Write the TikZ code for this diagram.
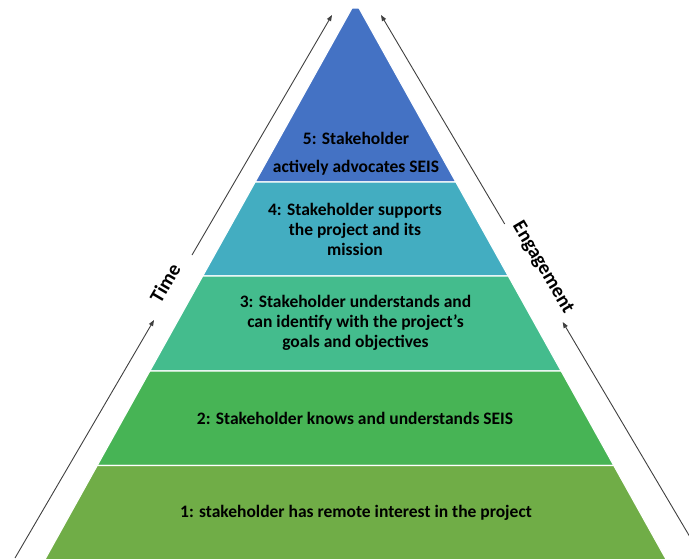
\documentclass[tikz,border=0pt]{standalone}
\usepackage{fontspec}
\setmainfont{Carlito}
\usetikzlibrary{arrows.meta, calc}

\definecolor{lvlfive}{HTML}{4472C4}
\definecolor{lvlfour}{HTML}{43ADC1}
\definecolor{lvlthree}{HTML}{44BC8D}
\definecolor{lvltwo}{HTML}{47B455}
\definecolor{lvlone}{HTML}{70AD47}
\definecolor{axisgray}{HTML}{404040}

\begin{document}
\begin{tikzpicture}[
  x=1pt, y=-1pt,
  band/.style={draw=white, line width=1.2pt},
  lbl/.style={font=\bfseries\fontsize{17.5}{20}\selectfont, align=center, text=black},
  axislbl/.style={font=\bfseries\fontsize{20}{24}\selectfont, inner sep=2pt},
  line/.style={draw=axisgray, line width=0.9pt, -{Triangle[length=6pt, width=4.5pt]}}
]
\useasboundingbox (0,0) rectangle (689,558);

% Pyramid corners: left edge l, right edge r
\coordinate (l0) at (352,8);     \coordinate (r0) at (359,8);
\coordinate (l1) at (255.1,182); \coordinate (r1) at (455.9,182);
\coordinate (l2) at (202.7,276); \coordinate (r2) at (508.3,276);
\coordinate (l3) at (149.8,371); \coordinate (r3) at (561.2,371);
\coordinate (l4) at (97.2,465.5); \coordinate (r4) at (613.8,465.5);
\coordinate (l5) at (42.4,564);  \coordinate (r5) at (668.7,564);

% Bands
\foreach \i/\j/\col in {0/1/lvlfive, 1/2/lvlfour, 2/3/lvlthree, 3/4/lvltwo, 4/5/lvlone}
  \path [band, fill=\col] (l\i) -- (r\i) -- (r\j) -- (l\j) -- cycle;

% Band texts
\node (five)  [lbl] at (356,154)   {5: Stakeholder\\[8pt]actively advocates SEIS};
\node (four)  [lbl] at (355,229.5) {4: Stakeholder supports\\the project and its\\mission};
\node (three) [lbl] at (355.5,323) {3: Stakeholder understands and\\can identify with the project’s\\goals and objectives};
\node (two)   [lbl] at (355,418)   {2: Stakeholder knows and understands SEIS};
\node (one)   [lbl] at (356,513)   {1: stakeholder has remote interest in the project};

% Time axis (left)
\coordinate (timestart) at (15,558);
\coordinate (timelow)   at (154,320);
\coordinate (timehigh)  at (192,255);
\coordinate (timeend)   at (332,15);
\node (time) [axislbl, rotate=59.7, anchor=south] at ($(timelow)!0.5!(timehigh)$) {Time};
\draw [line] (timestart) -- (timelow);
\draw [line] (timehigh) -- (timeend);

% Engagement axis (right)
\coordinate (engend)   at (381,15);
\coordinate (enghigh)  at (504.7,224);
\coordinate (englow)   at (562.7,322);
\coordinate (engstart) at (704.8,562);
\node (engage) [axislbl, rotate=-59.4, anchor=south] at ($(enghigh)!0.5!(englow)$) {Engagement};
\draw [line] (engstart) -- (englow);
\draw [line] (enghigh) -- (engend);

\end{tikzpicture}
\end{document}
